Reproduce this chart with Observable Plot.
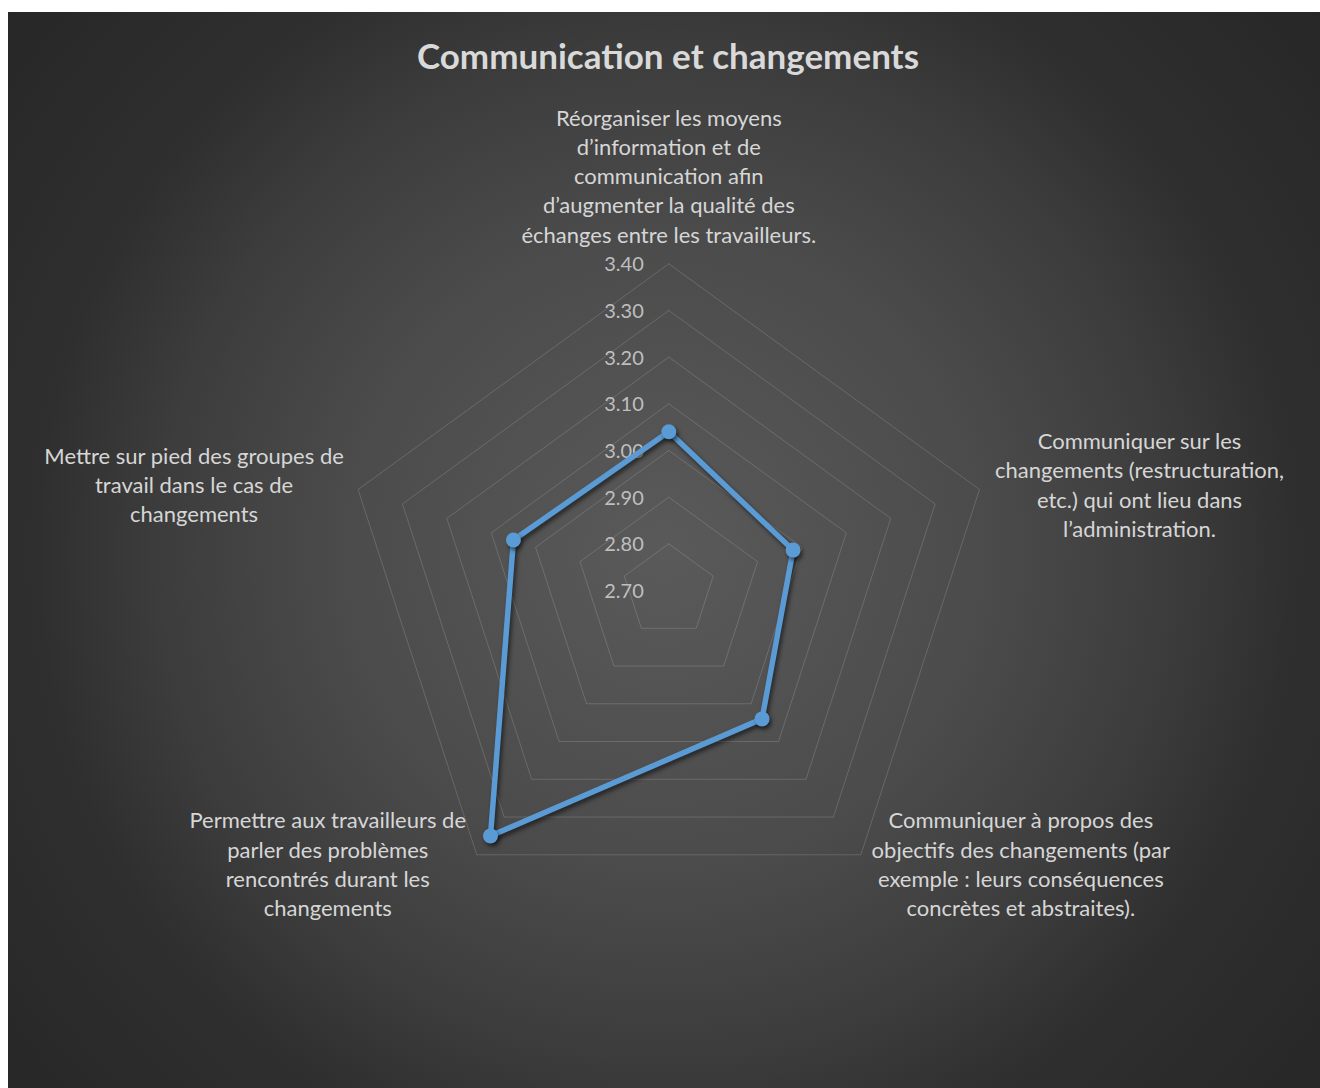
<!DOCTYPE html>
<html>
<head>
<meta charset="utf-8">
<script src="https://cdn.jsdelivr.net/npm/d3@7"></script>
<script src="https://cdn.jsdelivr.net/npm/@observablehq/plot@0.6"></script>
<style>
  html, body { margin: 0; padding: 0; background: #ffffff; }
  #chart {
    position: absolute; left: 8px; top: 12px; width: 1312px; height: 1076px; overflow: hidden;
    background: radial-gradient(circle 848px at 656px 540px, #5a5a5a 0%, #4b4b4b 38%, #3c3c3c 60%, #2f2f2f 74%, #272727 100%);
    font-family: Lato, "Open Sans", sans-serif;
  }
  #title {
    height: 88px; line-height: 86px; padding-left: 8px; box-sizing: border-box;
    text-align: center; font-weight: bold; font-size: 35px; color: #d9d9d9;
  }
  #chart svg { display: block; }
</style>
</head>
<body>
<div id="chart"><div id="title">Communication et changements</div></div>
<script>
const categories = [
  "Réorganiser les moyens\nd’information et de\ncommunication afin\nd’augmenter la qualité des\néchanges entre les travailleurs.",
  "Communiquer sur les\nchangements (restructuration,\netc.) qui ont lieu dans\nl’administration.",
  "Communiquer à propos des\nobjectifs des changements (par\nexemple : leurs conséquences\nconcrètes et abstraites).",
  "Permettre aux travailleurs de\nparler des problèmes\nrencontrés durant les\nchangements",
  "Mettre sur pied des groupes de\ntravail dans le cas de\nchangements"
];
const values = [3.04, 2.98, 3.04, 3.35, 3.05];
const ticks = [2.70, 2.80, 2.90, 3.00, 3.10, 3.20, 3.30, 3.40];
const tickLabels = ["2.70", "2.80", "2.90", "3.00", "3.10", "3.20", "3.30", "3.40"];

// layout (pixel offsets of the category label blocks from the outer vertex)
const labelOffsets = [[0, -89], [160, -6], [160, 8], [-149, 8], [-164, -6]];

const W = 1312, H = 988, R = 326.7, CX = 660.3, CY = 490;
const vMin = ticks[0], vMax = ticks[ticks.length - 1];
const n = categories.length;
const ang = i => Math.PI / 2 - i * 2 * Math.PI / n;
const rad = v => (v - vMin) / (vMax - vMin);
const pt = (i, v) => ({x: rad(v) * Math.cos(ang(i)), y: rad(v) * Math.sin(ang(i))});

const rings = [];
ticks.slice(1).forEach(t => {
  for (let i = 0; i <= n; i++) rings.push({t, ...pt(i % n, t)});
});
const series = values.map((v, i) => ({cat: categories[i], v, ...pt(i, v)}));
const seriesClosed = [...series, series[0]];
const tickData = ticks.map((t, k) => ({label: tickLabels[k], x: 0, y: rad(t)}));

const labelMarks = categories.map((c, i) => {
  const p = pt(i, vMax);
  return Plot.text([{...p, c}], {
    x: "x", y: "y", text: "c", dx: labelOffsets[i][0], dy: labelOffsets[i][1],
    textAnchor: "middle", lineAnchor: "middle", lineHeight: 1.33,
    fontSize: 22, fill: "#d6d6d6"
  });
});

const svg = Plot.plot({
  width: W, height: H, margin: 0,
  x: {domain: [-CX / R, (W - CX) / R], range: [0, W], axis: null},
  y: {domain: [-(H - CY) / R, CY / R], range: [H, 0], axis: null},
  style: {background: "transparent", fontFamily: "Lato, 'Open Sans', sans-serif", overflow: "visible"},
  marks: [
    Plot.line(rings, {x: "x", y: "y", z: "t", stroke: "#d9d9d9", strokeOpacity: 0.2, strokeWidth: 1}),
    Plot.text(tickData, {x: "x", y: "y", text: "label", textAnchor: "end", lineAnchor: "middle", dx: -25, dy: 1, fontSize: 20, fill: "#bfbfbf"}),
    Plot.line(seriesClosed, {x: "x", y: "y", stroke: "#5b9bd5", strokeWidth: 5.5, strokeLinejoin: "round"}),
    Plot.dot(series, {x: "x", y: "y", r: 7.5, fill: "#5b9bd5", stroke: "none"}),
    ...labelMarks
  ]
});
const lines = svg.querySelectorAll('g[aria-label="line"]');
const shadow = "drop-shadow(2px 3px 2px rgba(0,0,0,0.55))";
lines[lines.length - 1].style.filter = shadow;
svg.querySelectorAll('g[aria-label="dot"]').forEach(g => g.style.filter = shadow);
document.getElementById("chart").appendChild(svg);
</script>
</body>
</html>
